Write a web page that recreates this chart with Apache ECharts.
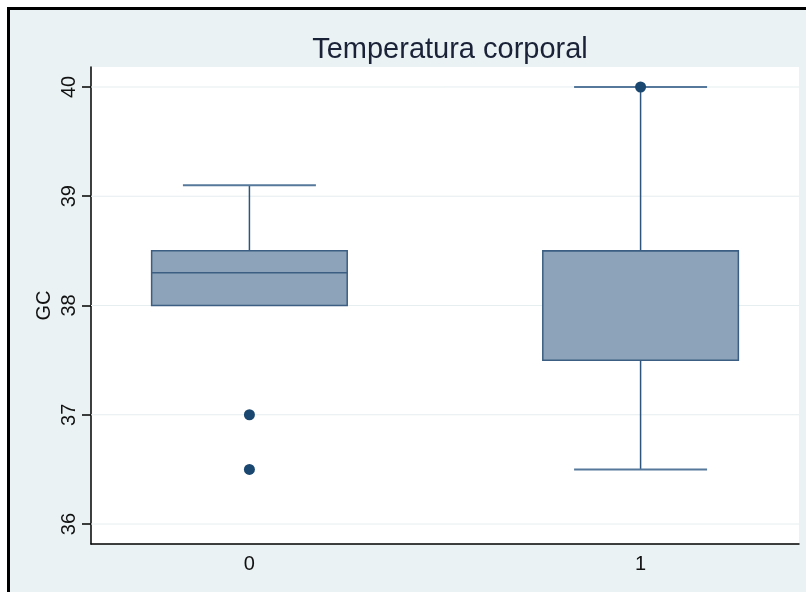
<!DOCTYPE html>
<html>
<head>
<meta charset="utf-8">
<script src="https://cdn.jsdelivr.net/npm/echarts@6/dist/echarts.min.js"></script>
<style>
  html, body { margin: 0; padding: 0; background: #ffffff; }
  #frame { position: absolute; left: 7px; top: 7px; width: 799px; height: 585px; box-sizing: border-box;
           border-top: 3px solid #000; border-left: 3px solid #000; background: #EAF2F3; }
  #chart { position: absolute; left: 0; top: 0; width: 806px; height: 592px; }
</style>
</head>
<body>
<div id="frame"></div>
<div id="chart"></div>
<script>
// ---- data ----
const title = 'Temperatura corporal';
const yName = 'GC';
const categories = ['0', '1'];
const q1 = [38.0, 37.5];
const medians = [38.3, 38.5];
const q3 = [38.5, 38.5];
const lowWhisker = [38.0, 36.5];
const highWhisker = [39.1, 40.0];
const outliers = [[0, 37.0], [0, 36.5], [1, 40.0]];
const yTicks = [36, 37, 38, 39, 40];
const xTicks = [0, 1];

// ---- build ----
const boxData = categories.map((c, i) => [i, lowWhisker[i], q1[i], medians[i], q3[i], highWhisker[i]]);

const BOX_W = 0.5, CAP_W = 0.34;
const fill = '#8DA3B9', stroke = '#3B5E82', whisk = '#2E557D', capC = '#56799B';
const FONT = 'Liberation Sans, Arial, Helvetica, sans-serif';

function renderBox(params, api) {
  const x = api.value(0);
  const lo = api.coord([x, api.value(1)]);
  const b = api.coord([x, api.value(2)]);
  const m = api.coord([x, api.value(3)]);
  const t = api.coord([x, api.value(4)]);
  const hi = api.coord([x, api.value(5)]);
  const bw = api.size([BOX_W, 0])[0];
  const cw = api.size([CAP_W, 0])[0];
  const cx = b[0];
  const children = [];
  if (hi[1] < t[1]) {
    children.push({ type: 'line', shape: { x1: cx, y1: t[1], x2: cx, y2: hi[1] }, style: { stroke: whisk, lineWidth: 1.5 } });
    children.push({ type: 'line', shape: { x1: cx - cw / 2, y1: hi[1], x2: cx + cw / 2, y2: hi[1] }, style: { stroke: capC, lineWidth: 2 } });
  }
  if (lo[1] > b[1]) {
    children.push({ type: 'line', shape: { x1: cx, y1: b[1], x2: cx, y2: lo[1] }, style: { stroke: whisk, lineWidth: 1.5 } });
    children.push({ type: 'line', shape: { x1: cx - cw / 2, y1: lo[1], x2: cx + cw / 2, y2: lo[1] }, style: { stroke: capC, lineWidth: 2 } });
  }
  children.push({ type: 'rect', shape: { x: cx - bw / 2, y: t[1], width: bw, height: b[1] - t[1] }, style: { fill: fill, stroke: stroke, lineWidth: 1.5 } });
  children.push({ type: 'line', shape: { x1: cx - bw / 2, y1: m[1], x2: cx + bw / 2, y2: m[1] }, style: { stroke: stroke, lineWidth: 1.5 } });
  return { type: 'group', children: children };
}

function renderGrid(params, api) {
  const p = api.coord([0, api.value(0)]);
  const cs = params.coordSys;
  return { type: 'line', shape: { x1: cs.x, y1: p[1], x2: cs.x + cs.width, y2: p[1] }, style: { stroke: '#E6EEF0', lineWidth: 1 } };
}

const chart = echarts.init(document.getElementById('chart'), null, { renderer: 'canvas' });
chart.setOption({
  backgroundColor: 'transparent',
  animation: false,
  title: {
    text: title, left: 445, top: 30, textAlign: 'center',
    textStyle: { fontFamily: FONT, fontSize: 29, fontWeight: 'normal', color: '#1A2238' }
  },
  grid: { left: 91, top: 67, right: 7, bottom: 48, show: true, backgroundColor: '#ffffff', borderWidth: 0 },
  xAxis: {
    type: 'value', min: -0.405, max: 1.405,
    axisLine: { show: true, onZero: false, lineStyle: { color: '#000', width: 1.5 } },
    axisTick: { show: false },
    splitLine: { show: false },
    axisLabel: {
      customValues: xTicks, margin: 10,
      formatter: v => categories[Math.round(v)],
      fontFamily: FONT, fontSize: 20, color: '#111'
    }
  },
  yAxis: {
    type: 'value', min: 35.817, max: 40.183,
    name: yName, nameLocation: 'middle', nameRotate: 90, nameGap: 37, nameMoveOverlap: false,
    nameTextStyle: { fontFamily: FONT, fontSize: 20, color: '#111' },
    axisLine: { show: true, onZero: false, lineStyle: { color: '#000', width: 1.5 } },
    axisTick: { show: true, customValues: yTicks, length: 9, lineStyle: { color: '#000', width: 1.5 } },
    splitLine: { show: false },
    axisLabel: {
      customValues: yTicks, rotate: 90, margin: 12,
      fontFamily: FONT, fontSize: 20, color: '#111'
    }
  },
  series: [
    { type: 'custom', z: 1, silent: true, data: yTicks.map(v => [v]), renderItem: renderGrid, encode: { y: 0 } },
    { type: 'custom', z: 2, data: boxData, renderItem: renderBox, encode: { x: 0, y: [1, 2, 3, 4, 5] } },
    { type: 'scatter', z: 3, data: outliers, symbol: 'circle', symbolSize: 11, itemStyle: { color: '#1A476F', opacity: 1 } }
  ]
});
</script>
</body>
</html>
